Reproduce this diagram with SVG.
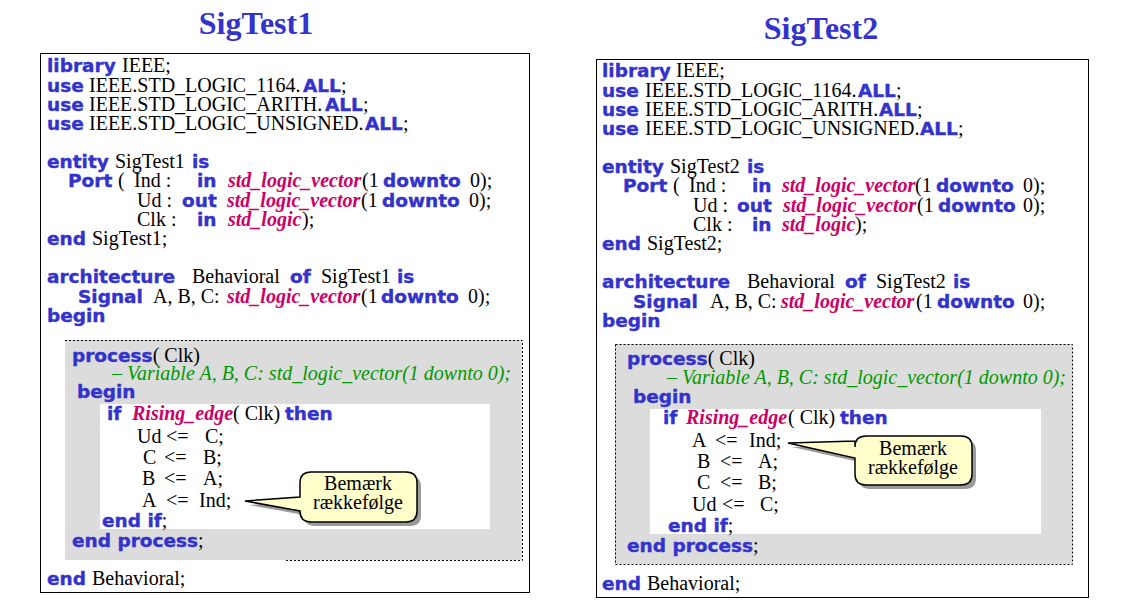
<svg xmlns="http://www.w3.org/2000/svg" width="1128" height="603" viewBox="0 0 1128 603">
<style>
.kw{font-family:"DejaVu Sans",sans-serif;font-weight:bold;font-size:18.5px;fill:#3333cc;stroke:#3333cc;stroke-width:0.4}
.tx{font-family:"Liberation Serif",serif;font-weight:normal;font-style:normal;font-size:20px;fill:#000;stroke:none}
.ty{font-family:"Liberation Serif",serif;font-style:italic;font-weight:bold;font-size:20px;fill:#cc0066;stroke:none}
.cm{font-family:"Liberation Serif",serif;font-style:italic;font-weight:normal;font-size:20px;fill:#009900}
.title{font-family:"Liberation Serif",serif;font-weight:bold;font-size:32px;fill:#3333cc}
.box{fill:#fff;stroke:#000;stroke-width:1}
.dot{fill:none;stroke:#000;stroke-width:1;stroke-dasharray:2 2}
.call{fill:#ffffcc;stroke:#000;stroke-width:1.5}
.shadow{fill:#9a9a9a}
.grey{fill:#dcdcdc}
.ct{font-family:"Liberation Serif",serif;font-size:20px;fill:#000;text-anchor:middle}
</style>
<rect width="1128" height="603" fill="#fff"/>

<g id="sigtest1">
<text class="title" x="256" y="34" text-anchor="middle">SigTest1</text>
<rect class="box" x="40.5" y="53.5" width="489" height="539"/>
<text class="kw" y="72"><tspan x="47">library</tspan><tspan class="tx" x="122">IEEE;</tspan></text>
<text class="kw" y="92"><tspan x="47">use</tspan><tspan class="tx" x="89">IEEE.STD_LOGIC_1164.</tspan><tspan x="303">ALL</tspan><tspan class="tx">;</tspan></text>
<text class="kw" y="111"><tspan x="47">use</tspan><tspan class="tx" x="89">IEEE.STD_LOGIC_ARITH.</tspan><tspan x="325">ALL</tspan><tspan class="tx">;</tspan></text>
<text class="kw" y="130"><tspan x="47">use</tspan><tspan class="tx" x="89">IEEE.STD_LOGIC_UNSIGNED.</tspan><tspan x="365">ALL</tspan><tspan class="tx">;</tspan></text>
<text class="kw" y="168"><tspan x="47">entity</tspan><tspan class="tx" x="115">SigTest1</tspan><tspan x="192">is</tspan></text>
<text class="kw" y="187"><tspan x="68">Port</tspan><tspan class="tx" x="118">(</tspan><tspan class="tx" x="134">Ind :</tspan><tspan x="197">in</tspan><tspan class="ty" x="228">std_logic_vector</tspan><tspan class="tx" x="362">(1</tspan><tspan x="383">downto</tspan><tspan class="tx" x="470">0);</tspan></text>
<text class="kw" y="207"><tspan class="tx" x="137">Ud :</tspan><tspan x="182">out</tspan><tspan class="ty" x="227">std_logic_vector</tspan><tspan class="tx" x="361">(1</tspan><tspan x="382">downto</tspan><tspan class="tx" x="469">0);</tspan></text>
<text class="kw" y="226"><tspan class="tx" x="137">Clk :</tspan><tspan x="197">in</tspan><tspan class="ty" x="228">std_logic</tspan><tspan class="tx" x="302">);</tspan></text>
<text class="kw" y="245"><tspan x="47">end</tspan><tspan class="tx" x="92">SigTest1;</tspan></text>
<text class="kw" y="283"><tspan x="47">architecture</tspan><tspan class="tx" x="192">Behavioral</tspan><tspan x="290">of</tspan><tspan class="tx" x="321">SigTest1</tspan><tspan x="397">is</tspan></text>
<text class="kw" y="303"><tspan x="78">Signal</tspan><tspan class="tx" x="153">A, B, C:</tspan><tspan class="ty" x="227">std_logic_vector</tspan><tspan class="tx" x="361">(1</tspan><tspan x="381">downto</tspan><tspan class="tx" x="468">0);</tspan></text>
<text class="kw" y="322"><tspan x="47">begin</tspan></text>

<rect class="grey" x="65" y="340" width="457" height="220"/>
<path class="dot" d="M65 340.5H522.5V560.5H285"/>
<rect x="100" y="404" width="390" height="125" fill="#fff"/>
<text class="kw" y="362"><tspan x="72">process</tspan><tspan class="tx">( Clk)</tspan></text>
<text class="cm" x="112" y="380">– Variable A, B, C: std_logic_vector(1 downto 0);</text>
<text class="kw" y="398"><tspan x="77">begin</tspan></text>
<text class="kw" y="420"><tspan x="107">if</tspan><tspan class="ty" x="132">Rising_edge</tspan><tspan class="tx" x="233">( Clk)</tspan><tspan x="285">then</tspan></text>
<text class="tx" y="443"><tspan x="137">Ud</tspan><tspan x="166">&lt;=</tspan><tspan x="205">C;</tspan></text>
<text class="tx" y="464"><tspan x="143">C</tspan><tspan x="164">&lt;=</tspan><tspan x="203">B;</tspan></text>
<text class="tx" y="485"><tspan x="142">B</tspan><tspan x="164">&lt;=</tspan><tspan x="203">A;</tspan></text>
<text class="tx" y="507"><tspan x="142">A</tspan><tspan x="166">&lt;=</tspan><tspan x="199">Ind;</tspan></text>
<text class="kw" y="527"><tspan x="102">end if</tspan><tspan class="tx">;</tspan></text>
<text class="kw" y="547"><tspan x="72">end process</tspan><tspan class="tx">;</tspan></text>
<text class="kw" y="585"><tspan x="47">end</tspan><tspan class="tx" x="92">Behavioral;</tspan></text>
</g>

<g id="callout1">
<path class="shadow" transform="translate(4,4)" d="M311 472H406Q417 472 417 483V511Q417 522 406 522H311Q300 522 300 511V511L245 501L300 497V483Q300 472 311 472Z"/>
<path class="call" d="M311 472H406Q417 472 417 483V511Q417 522 406 522H311Q300 522 300 511V511L245 501L300 497V483Q300 472 311 472Z"/>
<text class="ct" x="358" y="490">Bemærk</text>
<text class="ct" x="358" y="509">rækkefølge</text>
</g>

<g id="sigtest2">
<text class="title" x="821" y="39" text-anchor="middle">SigTest2</text>
<rect class="box" x="596.5" y="59.5" width="492" height="538"/>
<text class="kw" y="77"><tspan x="602">library</tspan><tspan class="tx" x="676">IEEE;</tspan></text>
<text class="kw" y="97"><tspan x="602">use</tspan><tspan class="tx" x="645">IEEE.STD_LOGIC_1164.</tspan><tspan x="858">ALL</tspan><tspan class="tx">;</tspan></text>
<text class="kw" y="116"><tspan x="602">use</tspan><tspan class="tx" x="645">IEEE.STD_LOGIC_ARITH.</tspan><tspan x="879">ALL</tspan><tspan class="tx">;</tspan></text>
<text class="kw" y="135"><tspan x="602">use</tspan><tspan class="tx" x="645">IEEE.STD_LOGIC_UNSIGNED.</tspan><tspan x="920">ALL</tspan><tspan class="tx">;</tspan></text>
<text class="kw" y="173"><tspan x="602">entity</tspan><tspan class="tx" x="670">SigTest2</tspan><tspan x="747">is</tspan></text>
<text class="kw" y="192"><tspan x="623">Port</tspan><tspan class="tx" x="673">(</tspan><tspan class="tx" x="689">Ind :</tspan><tspan x="752">in</tspan><tspan class="ty" x="782">std_logic_vector</tspan><tspan class="tx" x="915">(1</tspan><tspan x="936">downto</tspan><tspan class="tx" x="1023">0);</tspan></text>
<text class="kw" y="212"><tspan class="tx" x="693">Ud :</tspan><tspan x="737">out</tspan><tspan class="ty" x="783">std_logic_vector</tspan><tspan class="tx" x="917">(1</tspan><tspan x="938">downto</tspan><tspan class="tx" x="1023">0);</tspan></text>
<text class="kw" y="231"><tspan class="tx" x="693">Clk :</tspan><tspan x="752">in</tspan><tspan class="ty" x="782">std_logic</tspan><tspan class="tx" x="855">);</tspan></text>
<text class="kw" y="250"><tspan x="602">end</tspan><tspan class="tx" x="647">SigTest2;</tspan></text>
<text class="kw" y="288"><tspan x="602">architecture</tspan><tspan class="tx" x="747">Behavioral</tspan><tspan x="845">of</tspan><tspan class="tx" x="876">SigTest2</tspan><tspan x="953">is</tspan></text>
<text class="kw" y="308"><tspan x="633">Signal</tspan><tspan class="tx" x="710">A, B, C:</tspan><tspan class="ty" x="781">std_logic_vector</tspan><tspan class="tx" x="916">(1</tspan><tspan x="937">downto</tspan><tspan class="tx" x="1023">0);</tspan></text>
<text class="kw" y="327"><tspan x="602">begin</tspan></text>

<rect class="grey" x="615" y="344" width="457" height="220"/>
<rect class="dot" x="615.5" y="344.5" width="457" height="220"/>
<rect x="650" y="409" width="391" height="125" fill="#fff"/>
<text class="kw" y="365"><tspan x="627">process</tspan><tspan class="tx">( Clk)</tspan></text>
<text class="cm" x="667" y="384">– Variable A, B, C: std_logic_vector(1 downto 0);</text>
<text class="kw" y="403"><tspan x="633">begin</tspan></text>
<text class="kw" y="424"><tspan x="663">if</tspan><tspan class="ty" x="686">Rising_edge</tspan><tspan class="tx" x="788">( Clk)</tspan><tspan x="840">then</tspan></text>
<text class="tx" y="447"><tspan x="692">A</tspan><tspan x="715">&lt;=</tspan><tspan x="749">Ind;</tspan></text>
<text class="tx" y="468"><tspan x="697">B</tspan><tspan x="720">&lt;=</tspan><tspan x="758">A;</tspan></text>
<text class="tx" y="489"><tspan x="697">C</tspan><tspan x="720">&lt;=</tspan><tspan x="758">B;</tspan></text>
<text class="tx" y="511"><tspan x="692">Ud</tspan><tspan x="722">&lt;=</tspan><tspan x="760">C;</tspan></text>
<text class="kw" y="532"><tspan x="668">end if</tspan><tspan class="tx">;</tspan></text>
<text class="kw" y="552"><tspan x="627">end process</tspan><tspan class="tx">;</tspan></text>
<text class="kw" y="590"><tspan x="602">end</tspan><tspan class="tx" x="647">Behavioral;</tspan></text>
</g>

<g id="callout2">
<path class="shadow" transform="translate(4,4)" d="M866 436H961Q972 436 972 447V474Q972 485 961 485H866Q855 485 855 474V458L788 443L855 441V447Q855 436 866 436Z"/>
<path class="call" d="M866 436H961Q972 436 972 447V474Q972 485 961 485H866Q855 485 855 474V458L788 443L855 441V447Q855 436 866 436Z"/>
<text class="ct" x="913" y="455">Bemærk</text>
<text class="ct" x="913" y="474">rækkefølge</text>
</g>
</svg>
